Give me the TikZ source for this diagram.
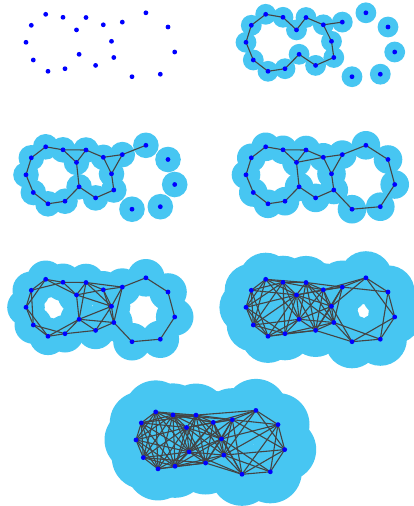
\documentclass[tikz,border=0pt]{standalone}
\definecolor{ballblue}{RGB}{71,198,242}
\definecolor{siteblue}{RGB}{0,0,255}
\definecolor{linkgray}{RGB}{68,68,68}
\tikzset{
  ball/.style={fill=ballblue},
  link/.style={draw=linkgray,line width=1.1pt},
  site/.style={fill=siteblue}
}
\def\cloud{45.7/14.3,63/17.3,86/17.5,31.3/25.3,76.5/29.9,103.3/24.8,122.3/22.1,145.9/12.8,168/27,26/42.3,111.5/41.3,174.7/52,33.3/60,79.1/54.3,113.8/57.5,48/71.3,65/68.7,95.6/65.4,132/76.7,160.3/74.2}

\begin{document}
\begin{tikzpicture}[x=1pt,y=-1pt]
    \useasboundingbox (0,0) rectangle (414,506);
    \foreach \ox/\oy/\r [count=\k] in {0/0/0,220/0/10.4,0/132.5/12.8,220/132.5/14.3,0/265/18.8,220/265/26.6,110/397.6/31.5} {
        \foreach \px/\py [count=\i] in \cloud
            \coordinate (v\k-\i) at (\ox+\px,\oy+\py);
        \foreach \i in {1,...,20}
            \fill [ball] (v\k-\i) circle [radius=\r pt];
        \foreach \xa/\ya [count=\i] in \cloud
            \foreach \xb/\yb [count=\j] in \cloud {
                \pgfmathtruncatemacro\hit{\j>\i && veclen(\xb-\xa,\yb-\ya)<2*\r}
                \ifnum\hit=1 \draw [link] (v\k-\i) -- (v\k-\j); \fi
            }
        \foreach \i in {1,...,20}
            \fill [site] (v\k-\i) circle [radius=2.4pt];
    }
\end{tikzpicture}
\end{document}
